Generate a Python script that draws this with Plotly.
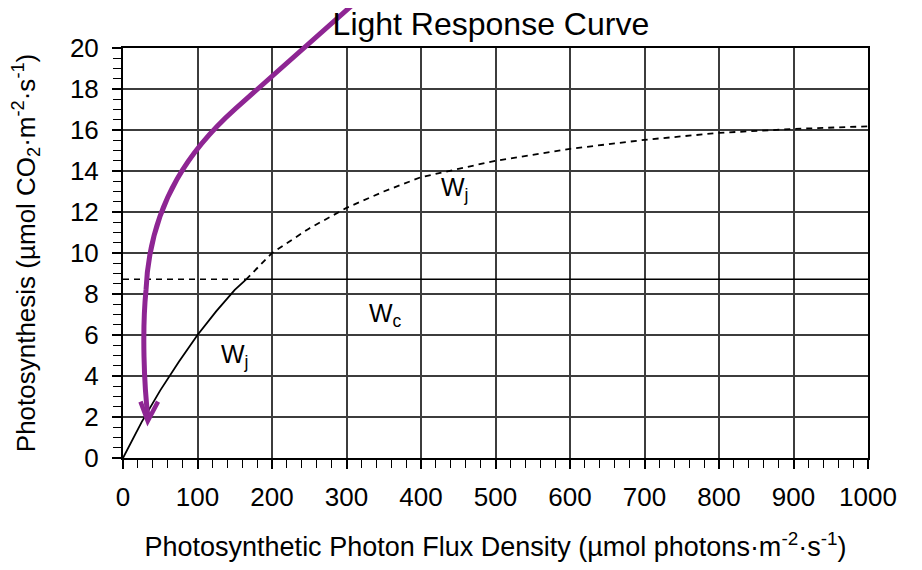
import plotly.graph_objects as go

# Wj (electron-transport limited) – solid part
ppfd_wj_solid = [0, 25, 50, 75, 100, 125, 150, 165]
wj_solid = [0, 1.75, 3.3, 4.7, 6.0, 7.15, 8.2, 8.7]
# Wj – dashed continuation
ppfd_wj_dash = [165, 200, 250, 300, 350, 400, 450, 500, 600, 700, 800, 900, 1000]
wj_dash = [8.7, 10.0, 11.2, 12.2, 13.0, 13.7, 14.1, 14.5, 15.08, 15.52, 15.86, 16.05, 16.18]
# Wc (Rubisco limited) horizontal line
ppfd_wc_dash = [0, 165]
ppfd_wc_solid = [165, 1000]
wc_value = 8.72

# purple arrow (data coordinates): line start, line end, cubic 1 (c1, c2, end), cubic 2 (c1, c2, end)
arrow_pts_x = [315.4, 150.3, 96.6, 36.2, 30.9, 25.5, 28.2, 33.6]
arrow_pts_y = [22.34, 17.02, 15.27, 12.59, 8.20, 6.24, 3.56, 1.95]
arrowhead_x = [23.5, 33.2, 47.0]
arrowhead_y = [2.75, 1.8, 2.75]

# labels
label_text = ["W<sub>j</sub>", "W<sub>c</sub>", "W<sub>j</sub>"]
label_x = [150, 352, 446]
label_y = [5.0, 7.0, 13.1]

x_ticks = list(range(0, 1001, 100))
y_ticks = list(range(0, 21, 2))
X_RANGE = [0, 1000]
Y_RANGE = [0, 20]

PURPLE = "#8E2593"
GRID = "#3c3c3c"
FONT = "Liberation Sans, Arial"


def to_paper(x, y):
    return ((x - X_RANGE[0]) / (X_RANGE[1] - X_RANGE[0]),
            (y - Y_RANGE[0]) / (Y_RANGE[1] - Y_RANGE[0]))


fig = go.Figure()
fig.add_trace(go.Scatter(x=ppfd_wj_solid, y=wj_solid, mode="lines",
                         line=dict(color="black", width=1.8), showlegend=False))
fig.add_trace(go.Scatter(x=ppfd_wj_dash, y=wj_dash, mode="lines",
                         line=dict(color="black", width=1.8, dash="6px,5px"), showlegend=False))
fig.add_trace(go.Scatter(x=ppfd_wc_dash, y=[wc_value] * 2, mode="lines",
                         line=dict(color="black", width=1.5, dash="6px,5px"), showlegend=False))
fig.add_trace(go.Scatter(x=ppfd_wc_solid, y=[wc_value] * 2, mode="lines",
                         line=dict(color="black", width=1.5), showlegend=False))

# arrow as paper-referenced path (so that it may leave the plot area)
p = [to_paper(x, y) for x, y in zip(arrow_pts_x, arrow_pts_y)]
f = lambda q: f"{q[0]:.5f},{q[1]:.5f}"
path = (f"M {f(p[0])} L {f(p[1])} C {f(p[2])} {f(p[3])} {f(p[4])} "
        f"C {f(p[5])} {f(p[6])} {f(p[7])}")
fig.add_shape(type="path", path=path, xref="paper", yref="paper",
              line=dict(color=PURPLE, width=5), layer="above")
h = [to_paper(x, y) for x, y in zip(arrowhead_x, arrowhead_y)]
fig.add_shape(type="path", path=f"M {f(h[0])} L {f(h[1])} L {f(h[2])}", xref="paper", yref="paper",
              line=dict(color=PURPLE, width=4.5), layer="above")

for t, x, y in zip(label_text, label_x, label_y):
    fig.add_annotation(x=x, y=y, text=t, showarrow=False,
                       font=dict(family=FONT, size=25, color="black"))

fig.update_layout(
    width=906, height=554,
    margin=dict(l=115, r=46, t=40, b=104, autoexpand=False),
    plot_bgcolor="white", paper_bgcolor="white",
    title=dict(text="Light Response Curve", x=0.533, xanchor="center", y=0.972, yanchor="middle",
               font=dict(family=FONT, size=32, color="black")),
    xaxis=dict(range=X_RANGE, tickvals=x_ticks, showgrid=True, gridcolor=GRID, gridwidth=1.6,
               showline=True, linecolor="black", linewidth=2, mirror=True, automargin=False,
               ticks="outside", ticklen=9, tickwidth=1.5, tickcolor="black",
               minor=dict(dtick=20, ticks="outside", ticklen=8, tickwidth=1.3, tickcolor="black", showgrid=False),
               tickfont=dict(family=FONT, size=26, color="black"), ticklabelstandoff=6,
               zeroline=False,
               title=dict(text="Photosynthetic Photon Flux Density (µmol photons·m<sup>-2</sup>·s<sup>-1</sup>)",
                          font=dict(family=FONT, size=27, color="black"),
                          standoff=27)),
    yaxis=dict(range=Y_RANGE, tickvals=y_ticks, showgrid=True, gridcolor=GRID, gridwidth=1.6,
               showline=True, linecolor="black", linewidth=2, mirror=True, automargin=False,
               ticks="outside", ticklen=9, tickwidth=1.5, tickcolor="black",
               minor=dict(dtick=0.5, ticks="outside", ticklen=8, tickwidth=1.3, tickcolor="black", showgrid=False),
               tickfont=dict(family=FONT, size=26, color="black"), ticklabelstandoff=8,
               zeroline=False,
               title=dict(text="Photosynthesis (µmol CO<sub>2</sub>·m<sup>-2</sup>·s<sup>-1</sup>)",
                          font=dict(family=FONT, size=26, color="black"),
                          standoff=28)),
)

fig.write_html("out.html")
